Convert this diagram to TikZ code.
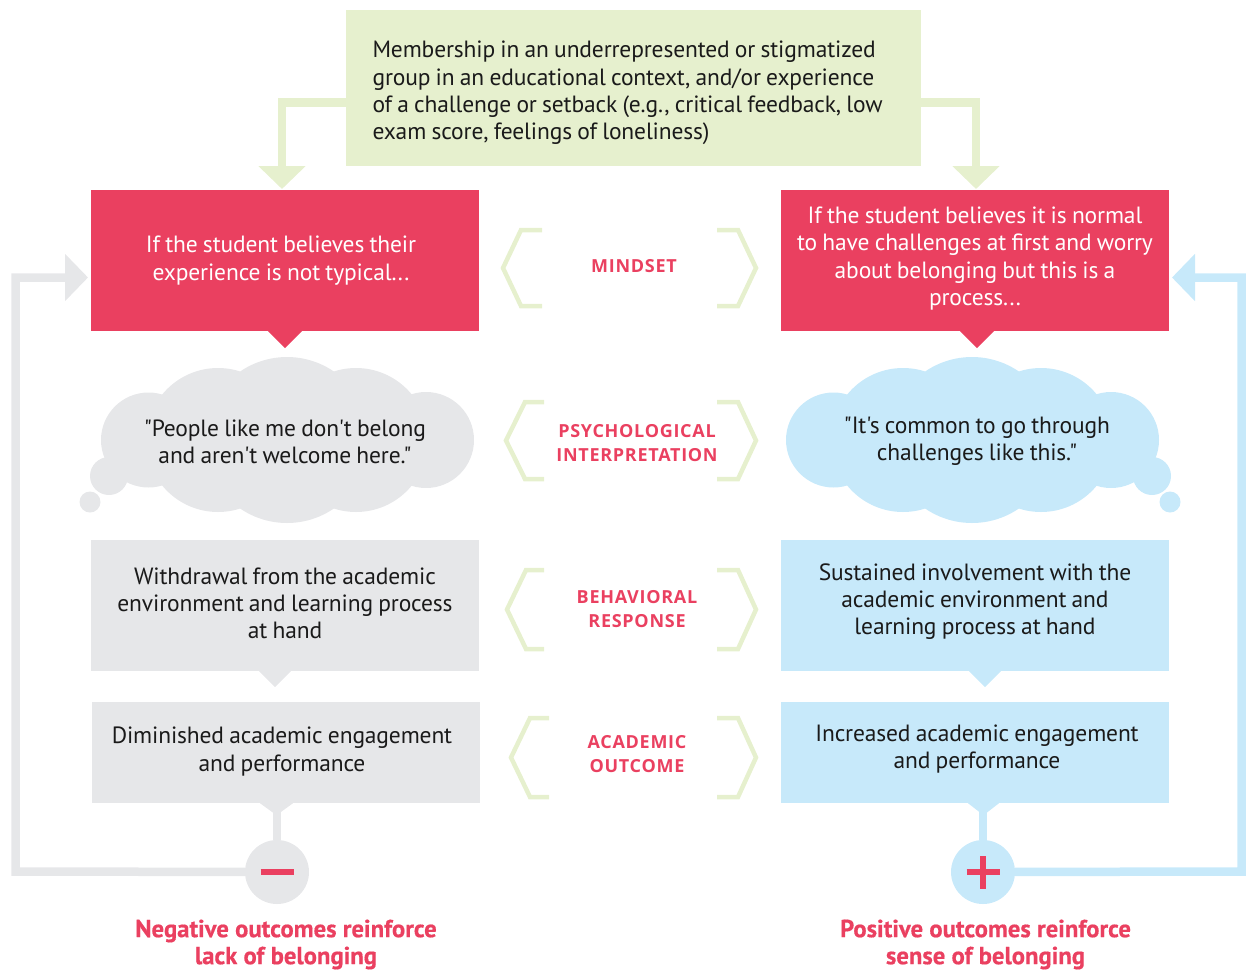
\documentclass[tikz,border=0pt]{standalone}
\usepackage{fontspec}
\setmainfont[Ligatures=TeXOff,LetterSpace=-0.6,WordSpace=0.85]{PT Sans}
\newfontfamily\labelfont[LetterSpace=4]{Open Sans}
\newfontfamily\outcomefont[UprightFont=* Bold,FakeBold=0.5]{PT Sans}
\usetikzlibrary{arrows.meta,positioning}

\definecolor{crimson}{HTML}{EA4060}
\definecolor{palegreen}{HTML}{E6F0CE}
\definecolor{palegrey}{HTML}{E6E7E9}
\definecolor{paleblue}{HTML}{C7E9FA}
\definecolor{inktext}{HTML}{1A1A1A}

\tikzset{
  box/.style={minimum width=388pt,inner sep=0pt,align=flush center,text width=380pt,text=inktext,
              font=\fontsize{23.5}{27.3}\selectfont},
  redbox/.style={box,fill=crimson,text=white,minimum height=141pt},
  greybox/.style={box,fill=palegrey},
  bluebox/.style={box,fill=paleblue},
  lift/.style={execute at end node={\par\vspace{#1}}},
  bubbletext/.style={align=center,text=inktext,font=\fontsize{23.5}{27.3}\selectfont},
  rowlabel/.style={align=center,text=crimson,
                   font=\labelfont\bfseries\fontsize{18}{24}\selectfont},
  outcome/.style={align=center,text=crimson,
                  font=\outcomefont\fontsize{24.7}{27}\selectfont},
  pipe/.style={line width=8.5pt},
  bigarrow/.style={pipe,-{Triangle[width=46pt,length=23pt]}},
  hook/.style={draw=palegreen,line width=4.5pt},
  sign/.style={circle,minimum size=64pt,inner sep=0pt},
  signbar/.style={draw=crimson,line width=6pt}
}

\begin{document}
\begin{tikzpicture}[x=1pt,y=-1pt]
  \useasboundingbox (0,0) rectangle (1246,969);

  % clouds first, text goes on top
  \foreach \dx/\col in {0/palegrey,685/paleblue} {
    \begin{scope}[xshift=\dx pt]
      \fill[\col] (148.5,440) circle (47.5) (218,440) circle (72) (287,440) circle (83)
                  (356,440) circle (72) (426,440) circle (48);
    \end{scope}
  }
  \fill[palegrey] (109,476) circle (19) (90,502) circle (10.5);
  \fill[paleblue] (1152,476) circle (19) (1170,502) circle (10.5);

  \node[fill=palegreen,minimum width=575pt,minimum height=156pt,inner sep=0pt,text width=522pt,
        align=flush left,text=inktext,font=\fontsize{23.5}{27.3}\selectfont,lift=-10pt] (source) at (633.5,88)
    {Membership in an underrepresented or stigmatized\\group in an educational context, and/or experience\\of a challenge or setback (e.g., critical feedback, low\\exam score, feelings of loneliness)};

  \node[redbox] (mindL) at (285,260.5) {\hspace*{-8pt}If the student believes their\\\hspace*{-8pt}experience is not typical...};
  \node[redbox,lift=4pt] (mindR) at (975,260.5) {If the student believes it is normal\\to have challenges at first and worry\\about belonging but this is a\\process...};

  \node[bubbletext] (thinkL) at (285,442) {"People like me don't belong\\and aren't welcome here."};
  \node[bubbletext] (thinkR) at (977,441) {"It's common to go through\\challenges like this."};

  \node[greybox,minimum height=131pt,lift=4pt] (actL) at (285,605.5) {Withdrawal from the academic\\environment and learning process\\at hand};
  \node[bluebox,minimum height=131pt,lift=8pt] (actR) at (975,605.5) {Sustained involvement with the\\academic environment and\\learning process at hand};

  \node[greybox,minimum height=101pt,lift=2pt] (outL) at (286,752.5) {\hspace*{-8pt}Diminished academic engagement\\\hspace*{-8pt}and performance};
  \node[bluebox,minimum height=101pt,lift=7pt] (outR) at (975,752.5) {\hspace*{4pt}Increased academic engagement\\\hspace*{4pt}and performance};

  \node[rowlabel] (rowA) at (634,266) {MINDSET};
  \node[rowlabel] (rowB) at (637,443) {PSYCHOLOGICAL\\INTERPRETATION};
  \node[rowlabel] (rowC) at (637,609) {BEHAVIORAL\\RESPONSE};
  \node[rowlabel] (rowD) at (637,754) {ACADEMIC\\OUTCOME};

  \node[sign,fill=palegrey] (minus) at (277,872) {};
  \node[sign,fill=paleblue] (plus) at (983,872) {};

  \node[outcome] (noteL) at (286,944.5) {Negative outcomes reinforce\\lack of belonging};
  \node[outcome] (noteR) at (985.5,944.5) {Positive outcomes reinforce\\sense of belonging};

  % little pointers under the boxes
  \fill[crimson] ([xshift=-17pt]mindL.south) -- ++(17,17) -- ++(17,-17) -- cycle;
  \fill[crimson] ([xshift=-15pt]mindR.south) -- ++(17,17) -- ++(17,-17) -- cycle;
  \fill[palegrey] ([xshift=-26pt]actL.south) -- ++(16,16) -- ++(16,-16) -- cycle;
  \fill[paleblue] ([xshift=-6pt]actR.south) -- ++(16,16) -- ++(16,-16) -- cycle;
  \fill[palegrey] ([xshift=-26pt]outL.south) -- ++(16.5,12) -- ++(16.5,-12) -- cycle;
  \fill[paleblue] ([xshift=-7pt]outR.south) -- ++(15.5,12) -- ++(15.5,-12) -- cycle;

  % connectors
  \coordinate (inL) at (282,189);
  \coordinate (inR) at (976,189);
  \coordinate (backL) at (88,277.5);
  \coordinate (backR) at (1172,277.5);
  \coordinate (stemL) at (277,803);
  \coordinate (stemR) at (983,803);
  \coordinate (cornerL) at (15.5,871.5);
  \coordinate (cornerR) at (1241.5,871.5);

  \draw[bigarrow,draw=palegreen] (source.west |- 0,102.5) -| (inL);
  \draw[bigarrow,draw=palegreen] (source.east |- 0,102.5) -| (inR);
  \draw[pipe,draw=palegrey] (stemL) -- (minus);
  \draw[pipe,draw=paleblue] (stemR) -- (plus);
  \draw[bigarrow,draw=palegrey] (minus) -- (cornerL) |- (backL);
  \draw[bigarrow,draw=paleblue] (plus) -- (cornerR) |- (backR);

  \draw[signbar] ([xshift=-16.5pt]minus.center) -- ([xshift=16.5pt]minus.center);
  \draw[signbar] ([xshift=-16.5pt]plus.center) -- ([xshift=16.5pt]plus.center);
  \draw[signbar] ([yshift=-16.5pt]plus.center) -- ([yshift=16.5pt]plus.center);

  % hooks either side of the row labels: end/corner/tip on the left, top and bottom
  \foreach \xa/\xb/\xc/\ya/\yb in {542/521/503/230/306, 544/525/506/402/479,
                                   544/526/507/570/649, 549/530/511/718/797} {
    \draw[hook] (\xa,\ya) -- (\xb,\ya) -- (\xc,{(\ya+\yb)/2}) -- (\xb,\yb) -- (\xa,\yb);
    \draw[hook] (717,\ya) -- (738,\ya) -- (756,{(\ya+\yb)/2}) -- (738,\yb) -- (717,\yb);
  }
\end{tikzpicture}
\end{document}
